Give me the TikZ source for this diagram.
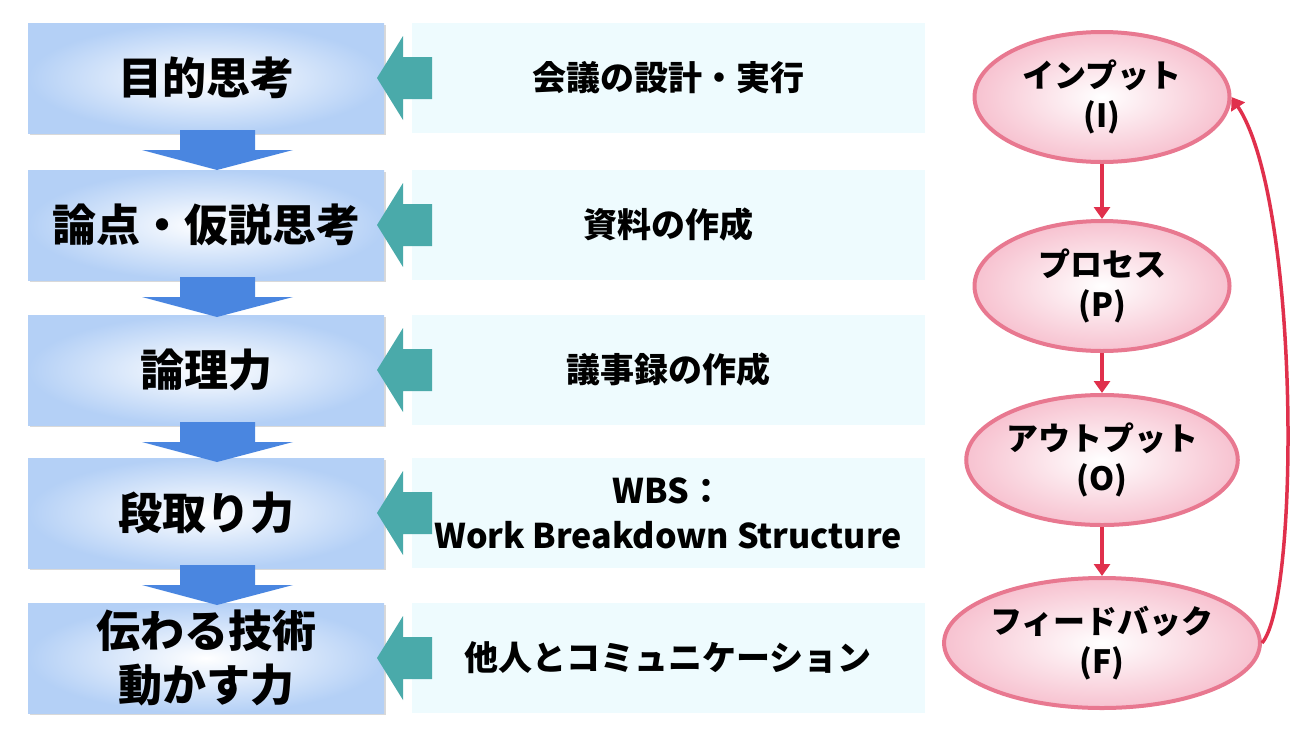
\documentclass[tikz,border=0pt]{standalone}
\usepackage{fontspec}
\setmainfont{Noto Sans CJK JP}
\usetikzlibrary{shapes.geometric,arrows.meta,shadows}
\definecolor{bxb}{HTML}{B4D0F6}
\definecolor{blu}{HTML}{4A86E0}
\definecolor{teal2}{HTML}{4AAAAA}
\definecolor{cyb}{HTML}{EEFBFE}
\definecolor{pk}{HTML}{F7C2D0}
\definecolor{pkb}{HTML}{E87890}
\definecolor{rd}{HTML}{E0304C}
\tikzset{
 lbox/.style={draw=none,inner color=white,outer color=bxb,minimum width=356pt,minimum height=110pt,font=\fontsize{44}{54}\selectfont\bfseries,align=center,drop shadow={shadow xshift=2pt,shadow yshift=-2pt,opacity=0.3}},
 mbox/.style={fill=cyb,minimum width=513pt,minimum height=110pt,font=\fontsize{34}{45}\selectfont\bfseries,align=center},
 ell/.style={ellipse,draw=pkb,line width=4pt,inner color=white,outer color=pk,minimum width=255pt,minimum height=130pt,inner sep=0pt,font=\fontsize{32}{40}\selectfont\bfseries,align=center},
 rarr/.style={draw=rd,line width=3.5pt,-{Triangle[length=12pt,width=16pt]}}
}
\begin{document}
\begin{tikzpicture}[x=1pt,y=-1pt]
\useasboundingbox (0,0) rectangle (1300,731);
\foreach \i/\yc/\lt/\mt in {1/78/目的思考/会議の設計・実行,2/225/論点・仮説思考/資料の作成,3/370/論理力/議事録の作成,4/513/段取り力/{WBS：\\Work Breakdown Structure},5/658/{伝わる技術\\動かす力}/他人とコミュニケーション}{
 \node[lbox] (L\i) at (206,\yc) {\lt};
 \node[mbox] (M\i) at (668,\yc) {\mt};
 \fill[teal2] (377,\yc) -- (403,\yc-42) -- (403,\yc-21) -- (432,\yc-21) -- (432,\yc+21) -- (403,\yc+21) -- (403,\yc+42) -- cycle;
}
\foreach \a/\yt in {1/130,2/277,3/422,4/565}{
 \fill[blu] (180,\yt) -- (255,\yt) -- (255,\yt+20) -- (293,\yt+20) -- (217,\yt+40) -- (142,\yt+20) -- (180,\yt+20) -- cycle;
}
\node[ell] (E1) at (1102,97) {インプット\\(I)};
\node[ell] (E2) at (1102,286) {プロセス\\(P)};
\node[ell] (E3) at (1102,460) {アウトプット\\(O)};
\node[ell] (E4) at (1102,643) {フィードバック\\(F)};
\draw[rarr] (E1) -- (E2);
\draw[rarr] (E2) -- (E3);
\draw[rarr] (E3) -- (E4);
\draw[rarr] (E4.east) .. controls (1300,600) and (1300,200) .. (E1.east);
\end{tikzpicture}
\end{document}
